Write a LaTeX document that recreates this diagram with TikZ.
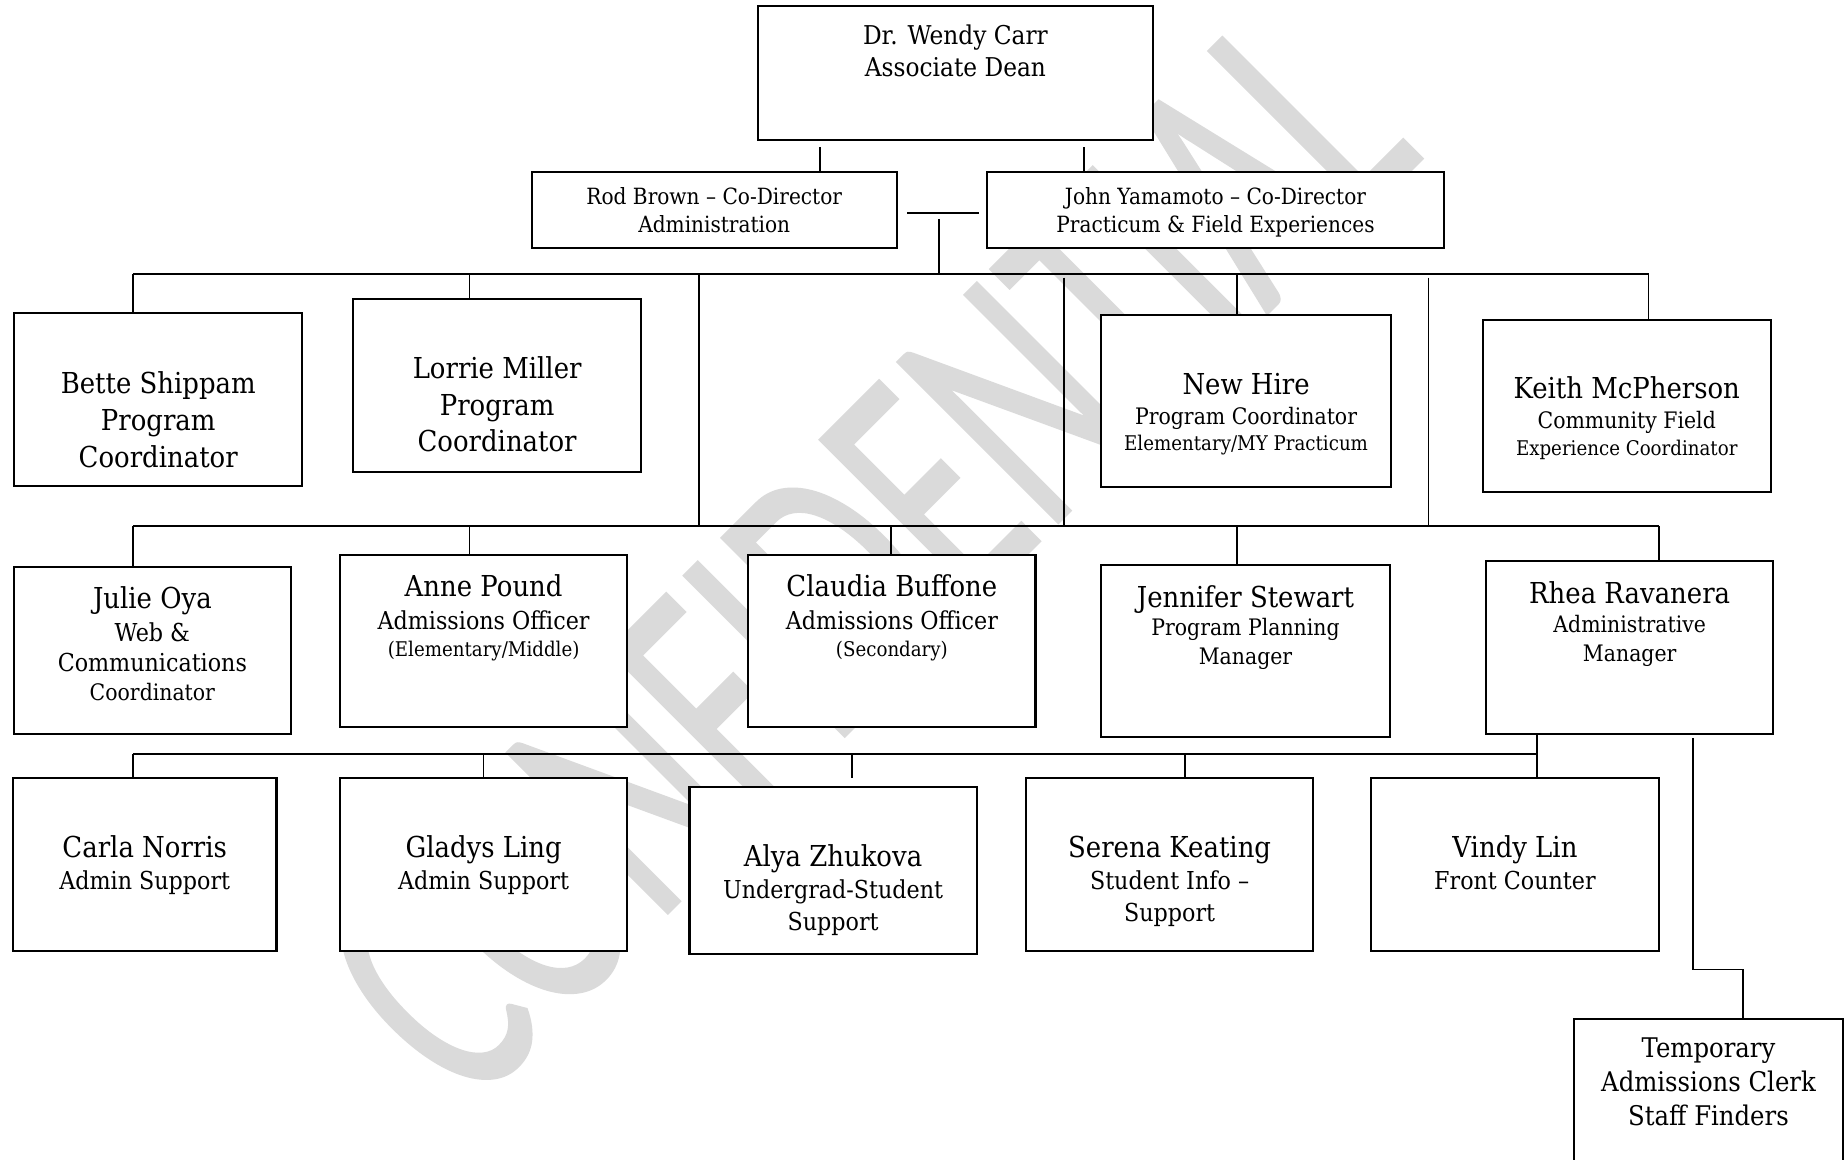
\documentclass[tikz,border=0pt]{standalone}
\usepackage{fontspec}
\setmainfont{DejaVu Serif}[FakeStretch=0.9]
\newfontfamily\wmfont{Carlito}[FakeBold=0.9]
\usetikzlibrary{fit}
\definecolor{wmgray}{RGB}{218,218,218}
\newcommand\fnA{\fontsize{24.5}{29}\selectfont}
\newcommand\fnW{\fontsize{22}{26}\selectfont}
\newcommand\fnR{\fontsize{19}{22}\selectfont}
\newcommand\fnM{\fontsize{19.3}{23}\selectfont}
\newcommand\fnO{\fontsize{21}{25}\selectfont}
\newcommand\fnS{\fontsize{17.2}{20}\selectfont}
\newcommand\fnL{\fontsize{21}{26}\selectfont}
\newcommand\fnT{\fontsize{23}{27}\selectfont}
\begin{document}
\begin{tikzpicture}[x=1pt,y=-1pt,
  box/.style={draw, fill=white, line width=1.8pt, inner sep=0pt},
  ln/.style={line width=1.5pt},
  t/.style={anchor=base, inner sep=0pt}]
\useasboundingbox (0,0) rectangle (1568,985);
\fill[white] (0,0) rectangle (1568,985);
% watermark
\node[text=wmgray, font=\wmfont\fontsize{300}{300}\selectfont, inner sep=0pt, rotate=45, xscale=0.636] (wm) at (736,471) {CONFIDENTIAL};
% boxes
\node[box, fit={(644,5) (980,119)}] (wendy) {};
\node[box, fit={(452,146) (762,211)}] (rod) {};
\node[box, fit={(839,146) (1227,211)}] (john) {};
\node[box, fit={(12,266) (257,413)}] (bette) {};
\node[box, fit={(300,254) (545,401)}] (lorrie) {};
\node[box, fit={(936,268) (1182,414)}] (newhire) {};
\node[box, fit={(1260,272) (1505,418)}] (keith) {};
\node[box, fit={(12,482) (247,624)}] (julie) {};
\node[box, fit={(289,472) (533,618)}] (anne) {};
\node[box, fit={(636,472) (880,618)}] (claudia) {};
\node[box, fit={(936,480) (1181,626)}] (jennifer) {};
\node[box, fit={(1263,477) (1507,624)}] (rhea) {};
\node[box, fit={(11,661) (235,808)}] (carla) {};
\node[box, fit={(289,661) (533,808)}] (gladys) {};
\node[box, fit={(586,669) (830,811)}] (alya) {};
\node[box, fit={(872,661) (1116,808)}] (serena) {};
\node[box, fit={(1165,661) (1410,808)}] (vindy) {};
\node[box, fit={(1338,866) (1566,1000)}] (temp) {};
% connectors top
\coordinate (w1) at (697,125); \coordinate (w2) at (921,125);
\draw[ln] (w1) -- (w1 |- rod.north);
\draw[ln] (w2) -- (w2 |- john.north);
\coordinate (h1) at (771,181); \coordinate (h2) at (832,181);
\draw[ln] (h1) -- (h2);
\coordinate (v1) at (798,186);
\coordinate (b1l) at (113,233); \coordinate (b1r) at (1401,233);
\draw[ln] (v1) -- (v1 |- b1l);
\draw[ln] (b1l) -- (b1r);
\draw[ln] (b1l) -- (b1l |- bette.north);
\coordinate (d2) at (399,233); \draw[ln] (d2) -- (d2 |- lorrie.north);
\coordinate (b2l) at (113,447); \coordinate (b2r) at (1410,447);
\coordinate (d3) at (594,233); \draw[ln] (d3) -- (d3 |- b2l);
\coordinate (d4) at (904,236); \draw[ln] (d4) -- (d4 |- b2l);
\coordinate (d5) at (1051,233); \draw[ln] (d5) -- (d5 |- newhire.north);
\coordinate (d6) at (1214,236); \draw[ln] (d6) -- (d6 |- b2l);
\draw[ln] (b1r) -- (b1r |- keith.north);
% bus 2
\draw[ln] (b2l) -- (b2r);
\draw[ln] (b2l) -- (b2l |- julie.north);
\coordinate (e2) at (399,447); \draw[ln] (e2) -- (e2 |- anne.north);
\coordinate (e3) at (757,447); \draw[ln] (e3) -- (e3 |- claudia.north);
\coordinate (e4) at (1051,447); \draw[ln] (e4) -- (e4 |- jennifer.north);
\draw[ln] (b2r) -- (b2r |- rhea.north);
% bus 3
\coordinate (r1) at (1306,624);
\coordinate (b3l) at (113,641);
\draw[ln] (r1) -- (r1 |- vindy.north);
\draw[ln] (b3l) -- (b3l -| r1);
\draw[ln] (b3l) -- (b3l |- carla.north);
\coordinate (f2) at (411,641); \draw[ln] (f2) -- (f2 |- gladys.north);
\coordinate (f3) at (724,641); \coordinate (f3e) at (724,661); \draw[ln] (f3) -- (f3e);
\coordinate (f4) at (1007,641); \draw[ln] (f4) -- (f4 |- serena.north);
% temp
\coordinate (t1) at (1439,627); \coordinate (t2) at (1481,824);
\draw[ln] (t1) |- (t2) -- (t2 |- temp.north);
% texts
\node[t, font=\fnW] (wendy1) at (812,38) {Dr. Wendy Carr};
\node[t, font=\fnW] (wendy2) at (812,65) {Associate Dean};
\node[t, font=\fnR] (rod1) at (607,174) {Rod Brown – Co-Director};
\node[t, font=\fnR] (rod2) at (607,198) {Administration};
\node[t, font=\fnR] (john1) at (1033,174) {John Yamamoto – Co-Director};
\node[t, font=\fnR] (john2) at (1033,198) {Practicum \& Field Experiences};
\node[t, font=\fnA] (bette1) at (134.5,334) {Bette Shippam};
\node[t, font=\fnA] (bette2) at (134.5,366) {Program};
\node[t, font=\fnA] (bette3) at (134.5,397) {Coordinator};
\node[t, font=\fnA] (lorrie1) at (422.5,322) {Lorrie Miller};
\node[t, font=\fnA] (lorrie2) at (422.5,353) {Program};
\node[t, font=\fnA] (lorrie3) at (422.5,384) {Coordinator};
\node[t, font=\fnA] (newhire1) at (1059,335) {New Hire};
\node[t, font=\fnM] (newhire2) at (1059,360.5) {Program Coordinator};
\node[t, font=\fnS] (newhire3) at (1059,383) {Elementary/MY Practicum};
\node[t, font=\fnA] (keith1) at (1382.5,339) {Keith McPherson};
\node[t, font=\fnM] (keith2) at (1382.5,364.5) {Community Field};
\node[t, font=\fnS] (keith3) at (1382.5,387) {Experience Coordinator};
\node[t, font=\fnA] (julie1) at (129.5,517) {Julie Oya};
\node[t, font=\fnL] (julie2) at (129.5,545) {Web \&};
\node[t, font=\fnL] (julie3) at (129.5,571) {Communications};
\node[t, font=\fnM] (julie4) at (129.5,595.5) {Coordinator};
\node[t, font=\fnA] (anne1) at (411,507) {Anne Pound};
\node[t, font=\fnO] (anne2) at (411,535) {Admissions Officer};
\node[t, font=\fnS] (anne3) at (411,558) {(Elementary/Middle)};
\node[t, font=\fnA] (claudia1) at (758,507) {Claudia Buffone};
\node[t, font=\fnO] (claudia2) at (758,535) {Admissions Officer};
\node[t, font=\fnS] (claudia3) at (758,558) {(Secondary)};
\node[t, font=\fnA] (jennifer1) at (1058.5,516) {Jennifer Stewart};
\node[t, font=\fnM] (jennifer2) at (1058.5,540.5) {Program Planning};
\node[t, font=\fnM] (jennifer3) at (1058.5,564.5) {Manager};
\node[t, font=\fnA] (rhea1) at (1385,513) {Rhea Ravanera};
\node[t, font=\fnM] (rhea2) at (1385,537.5) {Administrative};
\node[t, font=\fnM] (rhea3) at (1385,562.5) {Manager};
\node[t, font=\fnA] (carla1) at (123,729) {Carla Norris};
\node[t, font=\fnL] (carla2) at (123,756) {Admin Support};
\node[t, font=\fnA] (gladys1) at (411,729) {Gladys Ling};
\node[t, font=\fnL] (gladys2) at (411,756) {Admin Support};
\node[t, font=\fnA] (alya1) at (708,736) {Alya Zhukova};
\node[t, font=\fnL] (alya2) at (708,764) {Undergrad-Student};
\node[t, font=\fnL] (alya3) at (708,791) {Support};
\node[t, font=\fnA] (serena1) at (994,729) {Serena Keating};
\node[t, font=\fnL] (serena2) at (994,756) {Student Info –};
\node[t, font=\fnL] (serena3) at (994,783) {Support};
\node[t, font=\fnA] (vindy1) at (1287.5,729) {Vindy Lin};
\node[t, font=\fnL] (vindy2) at (1287.5,756) {Front Counter};
\node[t, font=\fnT] (temp1) at (1452,898.5) {Temporary};
\node[t, font=\fnT] (temp2) at (1452,927.5) {Admissions Clerk};
\node[t, font=\fnT] (temp3) at (1452,956.5) {Staff Finders};
\end{tikzpicture}
\end{document}
